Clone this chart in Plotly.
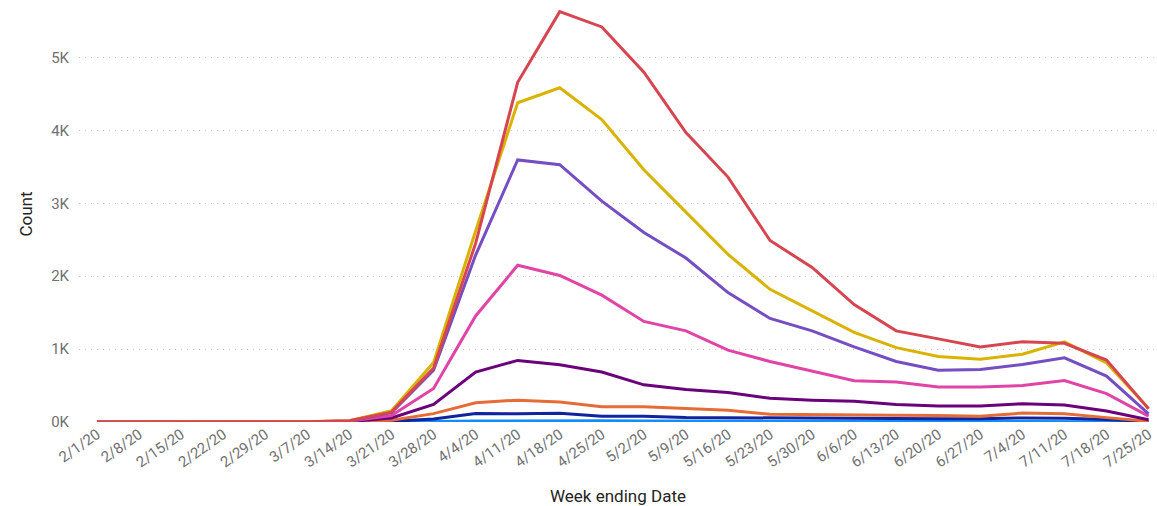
import plotly.graph_objects as go

weeks = ["2/1/20", "2/8/20", "2/15/20", "2/22/20", "2/29/20", "3/7/20", "3/14/20",
         "3/21/20", "3/28/20", "4/4/20", "4/11/20", "4/18/20", "4/25/20", "5/2/20",
         "5/9/20", "5/16/20", "5/23/20", "5/30/20", "6/6/20", "6/13/20", "6/20/20",
         "6/27/20", "7/4/20", "7/11/20", "7/18/20", "7/25/20"]

s1_light_blue = [0, 0, 0, 0, 0, 0, 1, 3, 8, 15, 18, 20, 16, 15, 14, 13, 12, 12, 11, 11, 10, 10, 12, 12, 8, 2]
s2_dark_blue = [0, 0, 0, 0, 0, 0, 2, 10, 40, 115, 112, 120, 80, 78, 62, 58, 50, 48, 46, 46, 44, 44, 55, 52, 35, 5]
s3_orange = [0, 0, 0, 0, 0, 1, 4, 25, 115, 265, 300, 275, 210, 208, 180, 160, 105, 98, 95, 92, 90, 78, 122, 112, 60, 10]
s4_dark_purple = [0, 0, 0, 0, 0, 1, 6, 55, 240, 685, 845, 785, 685, 510, 445, 405, 325, 300, 285, 240, 220, 220, 250, 232, 150, 30]
s5_pink = [0, 0, 0, 0, 0, 2, 12, 90, 460, 1455, 2150, 2010, 1740, 1380, 1250, 985, 830, 700, 565, 550, 480, 480, 500, 570, 390, 80]
s6_purple = [0, 0, 0, 0, 0, 2, 14, 130, 710, 2290, 3595, 3530, 3030, 2600, 2250, 1775, 1420, 1250, 1030, 830, 710, 720, 790, 880, 630, 110]
s7_yellow = [0, 0, 0, 0, 0, 3, 18, 155, 815, 2620, 4380, 4585, 4150, 3460, 2880, 2300, 1820, 1520, 1230, 1020, 900, 860, 930, 1100, 810, 190]
s8_red = [0, 0, 0, 0, 0, 3, 18, 135, 740, 2450, 4660, 5630, 5420, 4800, 3970, 3360, 2490, 2120, 1610, 1250, 1140, 1030, 1100, 1080, 850, 180]

series = [s1_light_blue, s2_dark_blue, s3_orange, s4_dark_purple, s5_pink, s6_purple, s7_yellow, s8_red]
names = ["Series 1", "Series 2", "Series 3", "Series 4", "Series 5", "Series 6", "Series 7", "Series 8"]
colors = ["#118DFF", "#12239E", "#E66C37", "#6B007B", "#E044A7", "#744EC2", "#D9B300", "#D64550"]

y_tickvals = [0, 1000, 2000, 3000, 4000, 5000]
y_ticktext = ["0K", "1K", "2K", "3K", "4K", "5K"]

fig = go.Figure()
for vals, name, col in zip(series, names, colors):
    fig.add_trace(go.Scatter(x=weeks, y=vals, mode="lines", name=name,
                             line=dict(color=col, width=3), showlegend=False))

font_fam = "Roboto, 'Open Sans', sans-serif"
fig.update_layout(
    width=1157, height=506,
    margin=dict(l=79, r=0, t=6, b=84),
    plot_bgcolor="white", paper_bgcolor="white",
    font=dict(family=font_fam, color="#707070", size=15),
)
fig.update_xaxes(
    type="category", range=[-0.43, 25.2],
    tickangle=-35, tickfont=dict(size=15, color="#707070", family=font_fam),
    showgrid=False, showline=False, zeroline=False, ticks="",
    title=dict(text="Week ending Date", font=dict(size=17, color="#252423", family=font_fam), standoff=24),
)
fig.update_yaxes(
    range=[0, 5707], tickvals=y_tickvals, ticktext=y_ticktext,
    tickfont=dict(size=15, color="#707070", family=font_fam),
    showgrid=True, gridcolor="#C8C8C8", griddash="1px,5px", gridwidth=1,
    zeroline=False, showline=False, ticks="", ticklabelstandoff=9,
    title=dict(text="Count", font=dict(size=17, color="#252423", family=font_fam), standoff=14),
)

fig.write_html("out.html", config={"displayModeBar": False},
               post_script="document.body.style.margin='0';")
